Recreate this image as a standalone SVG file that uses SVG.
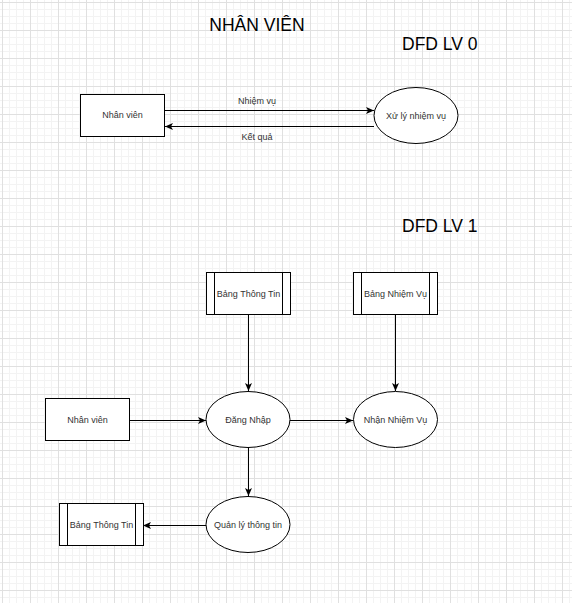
<svg xmlns="http://www.w3.org/2000/svg" width="572" height="603" viewBox="0 0 572 603">
<style>
.t{font-family:"Liberation Sans",Arial,sans-serif;font-size:9px;fill:#333;text-anchor:middle}
.h{font-family:"Liberation Sans",Arial,sans-serif;font-size:17.5px;fill:#000}
.s{fill:#fff;stroke:#000;stroke-width:1}
.c{fill:none;stroke:#000;stroke-width:1}
</style>
<defs>
<pattern id="minor" x="2" y="2" width="7" height="7" patternUnits="userSpaceOnUse">
<path d="M0.5,0V7M0,0.5H7" stroke="#f3f3f3" stroke-width="1" fill="none"/>
</pattern>
<pattern id="major" x="2" y="2" width="28" height="28" patternUnits="userSpaceOnUse">
<path d="M0.5,0V28M0,0.5H28" stroke="#e0e0e0" stroke-width="1" fill="none"/>
</pattern>
<marker id="arr" markerUnits="userSpaceOnUse" markerWidth="10" markerHeight="10" refX="8" refY="4" orient="auto">
<path d="M0,0.5L8,4L0,7.5L2,4z" fill="#000"/>
</marker>
</defs>
<rect width="572" height="603" fill="#fff"/>
<rect width="572" height="603" fill="url(#minor)"/>
<rect width="572" height="603" fill="url(#major)"/>

<g id="titles">
<text class="h" x="257" y="31" text-anchor="middle">NHÂN VIÊN</text>
<text class="h" x="402" y="50">DFD LV 0</text>
<text class="h" x="402" y="232">DFD LV 1</text>
</g>

<g id="connectors">
<path class="c" d="M165,110.5H374" marker-end="url(#arr)"/>
<path class="c" d="M374,126.5H165" marker-end="url(#arr)"/>
<path class="c" d="M248.5,314V391" marker-end="url(#arr)"/>
<path class="c" d="M395.5,314V391" marker-end="url(#arr)"/>
<path class="c" d="M129,420.5H206" marker-end="url(#arr)"/>
<path class="c" d="M290,420.5H353" marker-end="url(#arr)"/>
<path class="c" d="M248.5,447V496" marker-end="url(#arr)"/>
<path class="c" d="M206,525.5H143" marker-end="url(#arr)"/>
<text class="t" x="257" y="104">Nhiệm vụ</text>
<text class="t" x="257" y="140">Kết quả</text>
</g>

<g id="nv0">
<rect class="s" x="80.5" y="94.5" width="84" height="42"/>
<text class="t" x="122.5" y="118">Nhân viên</text>
</g>
<g id="xlnv">
<ellipse class="s" cx="416" cy="115.5" rx="42" ry="28"/>
<text class="t" x="416" y="118.5">Xử lý nhiệm vụ</text>
</g>

<g id="btt1">
<rect class="s" x="206.5" y="272.5" width="84" height="42"/>
<path class="c" d="M214.5,272.5V314.5M282.5,272.5V314.5"/>
<text class="t" x="248.5" y="296.5">Bảng Thông Tin</text>
</g>
<g id="bnv">
<rect class="s" x="353.5" y="272.5" width="84" height="42"/>
<path class="c" d="M361.5,272.5V314.5M429.5,272.5V314.5"/>
<text class="t" x="395.5" y="296.5">Bảng Nhiệm Vụ</text>
</g>
<g id="nv1">
<rect class="s" x="45.5" y="398.5" width="84" height="42"/>
<text class="t" x="87.5" y="423">Nhân viên</text>
</g>
<g id="dn">
<ellipse class="s" cx="248" cy="419.5" rx="42" ry="28"/>
<text class="t" x="248" y="423">Đăng Nhập</text>
</g>
<g id="nnv">
<ellipse class="s" cx="395.5" cy="419.5" rx="42" ry="28"/>
<text class="t" x="395.5" y="423">Nhận Nhiệm Vụ</text>
</g>
<g id="qltt">
<ellipse class="s" cx="248" cy="524.5" rx="42" ry="28"/>
<text class="t" x="248" y="528">Quản lý thông tin</text>
</g>
<g id="btt2">
<rect class="s" x="59.5" y="503.5" width="84" height="42"/>
<path class="c" d="M67.5,503.5V545.5M135.5,503.5V545.5"/>
<text class="t" x="101.5" y="528">Bảng Thông Tin</text>
</g>
</svg>
